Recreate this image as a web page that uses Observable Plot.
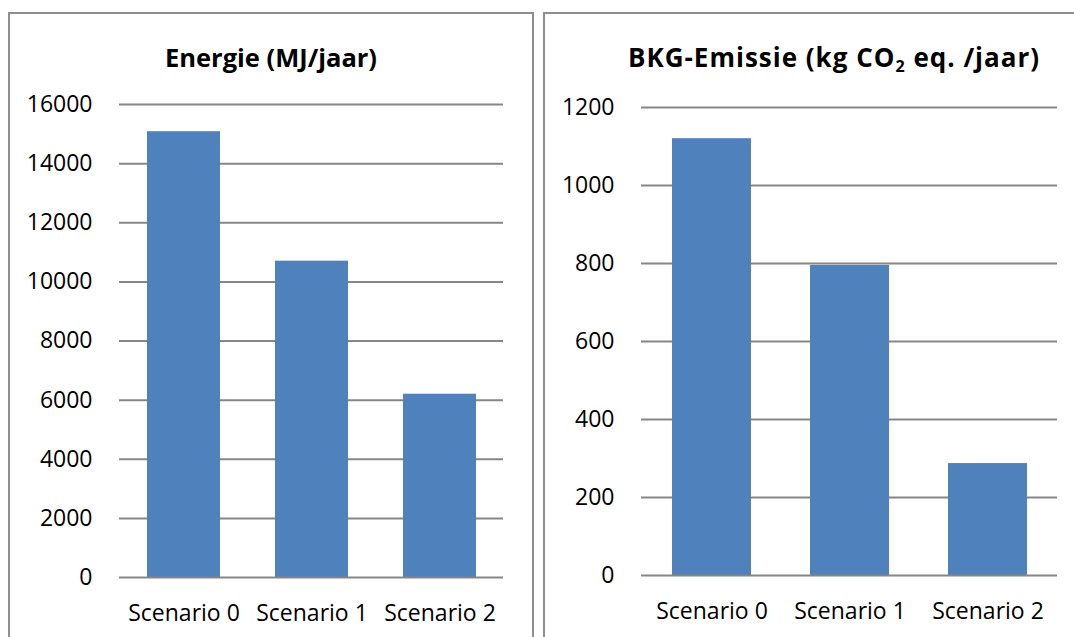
<!DOCTYPE html>
<html>
<head>
<meta charset="utf-8">
<script src="https://cdn.jsdelivr.net/npm/d3@7"></script>
<script src="https://cdn.jsdelivr.net/npm/@observablehq/plot@0.6"></script>
<style>
  html, body { margin: 0; padding: 0; background: #fff; }
  #page { position: relative; width: 1074px; height: 637px; overflow: hidden; font-family: "Open Sans", sans-serif; }
  .panel { position: absolute; box-sizing: border-box; border: 2px solid #8f8f8f; background: #fff; }
  .title { position: absolute; text-align: center; font-weight: bold; line-height: 26px; color: #000; white-space: nowrap; }
  .title sub { font-size: 0.62em; vertical-align: -0.3em; line-height: 0; }
  .chart { position: absolute; top: 0; }
</style>
</head>
<body>
<div id="page">
  <div class="panel" style="left:8px; top:12px; width:526px; height:700px;"></div>
  <div class="panel" style="left:543px; top:12px; width:600px; height:700px;"></div>
  <div class="title" style="left:9px; width:524px; top:44px; font-size:25.5px;">Energie (MJ/jaar)</div>
  <div class="title" style="left:544px; width:580px; top:44px; font-size:26px; letter-spacing:1px;">BKG-Emissie (kg CO<sub>2</sub> eq. /jaar)</div>
  <div class="chart" id="left" style="left:0px;"></div>
  <div class="chart" id="right" style="left:533px;"></div>
</div>
<script>
const categories = ["Scenario 0", "Scenario 1", "Scenario 2"];
const energie = [15080, 10700, 6200];
const emissie = [1120, 795, 287];
const energieTicks = [0, 2000, 4000, 6000, 8000, 10000, 12000, 14000, 16000];
const emissieTicks = [0, 200, 400, 600, 800, 1000, 1200];

const gridColor = "#868686";
const barColor = "#4F81BD";

function makeChart(values, ticks, opts) {
  const data = categories.map((c, i) => ({category: c, value: values[i]}));
  return Plot.plot({
    width: opts.width,
    height: 637,
    marginLeft: opts.marginLeft,
    marginRight: opts.marginRight,
    marginTop: opts.marginTop,
    marginBottom: opts.marginBottom,
    style: {fontFamily: "Open Sans, sans-serif", fontSize: "23px", color: "#000", background: "transparent", overflow: "visible"},
    x: {domain: categories, paddingInner: 0.43, paddingOuter: 0.215, label: null, tickSize: 0, tickPadding: 27},
    y: {domain: [ticks[0], ticks[ticks.length - 1]], ticks: ticks, label: null, tickSize: 0, tickPadding: 27, tickFormat: d => String(d)},
    marks: [
      Plot.ruleY(ticks.slice(1), {stroke: gridColor, strokeWidth: 2}),
      Plot.barY(data, {x: "category", y: "value", fill: barColor}),
      Plot.ruleY([0], {stroke: gridColor, strokeWidth: 2})
    ]
  });
}

document.getElementById("left").append(makeChart(energie, energieTicks, {width: 533, marginLeft: 119, marginRight: 30, marginTop: 104, marginBottom: 60}));
document.getElementById("right").append(makeChart(emissie, emissieTicks, {width: 541, marginLeft: 108, marginRight: 17, marginTop: 107, marginBottom: 62}));
</script>
</body>
</html>
